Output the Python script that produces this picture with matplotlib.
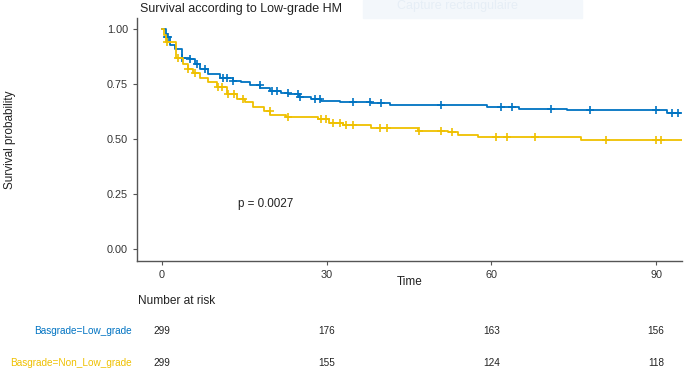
import numpy as np
import matplotlib
matplotlib.use("Agg")
import matplotlib.pyplot as plt
from matplotlib.transforms import blended_transform_factory

plt.rcParams['font.family'] = ['Liberation Sans', 'DejaVu Sans']

# survival steps (time, survival after the step)
blue_t = [0, 0.8, 1.5, 2.4, 3.6, 5.1, 6.0, 6.9, 8.4, 10.6, 13.0, 14.3, 16.1, 17.9, 19.7, 21.6,
          23.0, 24.9, 27.1, 28.9, 32.5, 38.0, 41.5, 59.1, 65.1, 73.7, 92.0, 94.3]
blue_s = [1.0, .965, .93, .91, .87, .863, .84, .817, .795, .78, .765, .758, .745, .73, .72, .71,
          .703, .69, .68, .674, .667, .662, .656, .644, .635, .630, .617, .617]
yellow_t = [0, 0.3, 0.8, 2.6, 3.9, 4.8, 5.7, 7.0, 8.4, 10.0, 11.8, 13.6, 15.2, 16.6, 18.5, 19.7,
            22.5, 28.5, 30.5, 33.0, 38.0, 46.6, 52.1, 53.9, 57.6, 76.4, 95.0]
yellow_s = [1.0, .975, .94, .87, .84, .817, .80, .78, .76, .735, .703, .68, .667, .644, .626, .61,
            .60, .59, .572, .562, .55, .534, .53, .52, .507, .496, .496]

blue_cens = [0.9, 1.1, 3.6, 5.1, 6.3, 7.9, 11.2, 11.8, 13.0, 17.8, 20.0, 20.9, 22.9, 24.7, 25.1,
             27.8, 28.7, 34.7, 37.8, 39.9, 50.9, 61.8, 63.8, 70.9, 77.9, 90.0, 92.8, 93.9]
yellow_cens = [0.9, 3.0, 4.8, 6.0, 10.2, 10.9, 12.0, 13.2, 14.8, 19.6, 23.0, 29.0, 29.9, 31.1,
               32.4, 33.6, 34.7, 39.7, 40.9, 46.8, 50.9, 52.9, 60.9, 62.9, 67.9, 80.8, 89.9, 90.9]

strata = ['Basgrade=Low_grade', 'Basgrade=Non_Low_grade']
colors = ['#0073C2', '#EFC000']
risk_times = [0, 30, 60, 90]
risk_blue = [299, 176, 163, 156]
risk_yellow = [299, 155, 124, 118]


def surv_at(tt, ss, x):
    idx = np.searchsorted(tt, x, side='right') - 1
    return np.array(ss)[idx]


fig = plt.figure(figsize=(6.85, 3.77), dpi=100)
ax = fig.add_axes([0.2, 0.3085, 0.7956, 0.643])

for tt, ss, cens, c in [(blue_t, blue_s, blue_cens, colors[0]),
                        (yellow_t, yellow_s, yellow_cens, colors[1])]:
    ax.step(tt, ss, where='post', color=c, lw=1.3)
    ax.plot(cens, surv_at(tt, ss, cens), '+', color=c, ms=5.5, mew=1.2)

ax.set_xlim(-4.55, 94.7)
ax.set_ylim(-0.055, 1.05)
ax.set_xticks([0, 30, 60, 90])
ax.set_yticks([0, 0.25, 0.5, 0.75, 1.0])
ax.set_yticklabels(['0.00', '0.25', '0.50', '0.75', '1.00'])
for s in ['top', 'right']:
    ax.spines[s].set_visible(False)
for s in ['left', 'bottom']:
    ax.spines[s].set_color('#555555')
    ax.spines[s].set_linewidth(1.0)
ax.tick_params(labelsize=7.8, colors='#555555', length=3, width=0.8, labelcolor='#333333')

ax.text(13.8, 0.19, 'p = 0.0027', fontsize=8.4, color='#222222')
ax.set_xlabel('Time', fontsize=8.5, color='#222222')
ax.xaxis.set_label_coords(0.5, -0.065)
fig.text(0.0145, 0.63, 'Survival probability', rotation=90, fontsize=8.5,
         va='center', ha='center', color='#222222')
fig.text(0.204, 0.977, 'Survival according to Low-grade HM', fontsize=9,
         va='center', ha='left', color='#222222')

# faint screenshot leftover box at the top
fig.patches.append(plt.Rectangle((0.53, 0.952), 0.32, 0.048, transform=fig.transFigure,
                                 color='#f3f7fb', zorder=0))
fig.text(0.58, 0.985, 'Capture rectangulaire', fontsize=9, color='#e6eef6',
         va='center', ha='left')

# number at risk table
tr = blended_transform_factory(ax.transData, fig.transFigure)
fig.text(0.2015, 0.2015, 'Number at risk', fontsize=8.6, va='center', ha='left', color='#222222')
for lab, vals, c, y in [(strata[0], risk_blue, colors[0], 0.122),
                        (strata[1], risk_yellow, colors[1], 0.037)]:
    fig.text(0.193, y, lab, fontsize=7.2, color=c, va='center', ha='right')
    for t, v in zip(risk_times, vals):
        ax.text(t, y, str(v), transform=tr, fontsize=7.2, color='#222222',
                va='center', ha='center', clip_on=False)

fig.savefig('out.png', dpi=100)
